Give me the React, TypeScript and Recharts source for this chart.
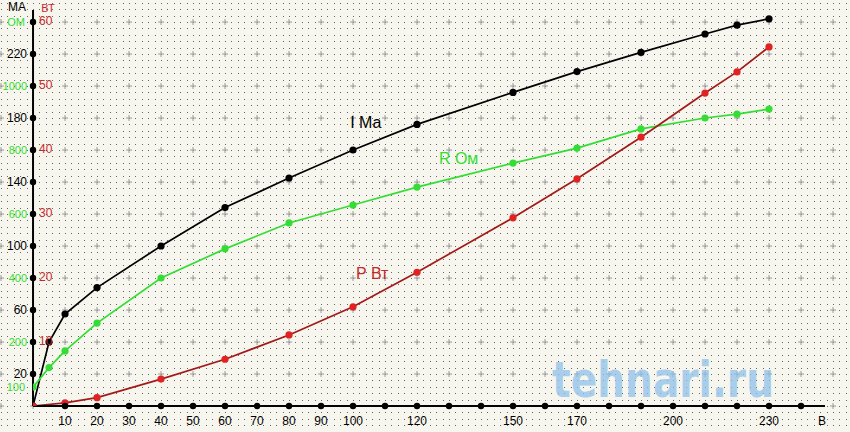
import { LineChart, Line, XAxis, YAxis, ReferenceDot } from 'recharts';

// measurements: voltage across the lamp and what was read at each step
const volts = [0, 5, 10, 20, 40, 60, 80, 100, 120, 150, 170, 190, 210, 220, 230];
const currentMa = [0, 40, 57.5, 74, 100, 124, 142.5, 160, 176, 196, 209, 221, 232.5, 238, 242];
const resistOhm = [59, 120, 172, 259, 400, 491, 572, 628, 684, 759, 806, 866, 900, 912, 928];
const powerW = [0, null, 0.5, 1.3, 4.2, 7.3, 11.1, 15.5, 20.9, 29.4, 35.5, 42, 48.9, 52.2, 56.1];

const voltTicks = [10, 20, 30, 40, 50, 60, 70, 80, 90, 100, 110, 120, 130, 140, 150, 160, 170, 180, 190, 200, 210, 220, 230, 240];
const voltLabels = [10, 20, 30, 40, 50, 60, 70, 80, 90, 100, 120, 150, 170, 200, 230];
const maTicks = [20, 40, 60, 80, 100, 120, 140, 160, 180, 200, 220, 240];
const maLabels = [20, 60, 100, 140, 180, 220];
const wattTicks = [10, 20, 30, 40, 50, 60];
const ohmTicks = [200, 400, 600, 800, 1000];

const chartData = volts.map((v, i) => ({
  v,
  i: currentMa[i],
  r: resistOhm[i],
  p: powerW[i],
}));

const RED = '#c42a2a';
const RED_LINE = '#a11a1a';
const GREEN = '#33dd33';
const FONT = '"Liberation Sans", Arial, sans-serif';
// axes take (almost) no room, they sit on the plot edge
const THIN = 0.01;

const VoltTick = ({ x, y, payload }: any) => (
  <g>
    <circle cx={x} cy={y} r={3.2} fill="#000" />
    {voltLabels.includes(payload.value) && (
      <text x={x} y={y + 19} textAnchor="middle" fontSize={12} fill="#000">
        {payload.value}
      </text>
    )}
  </g>
);

const MaTick = ({ x, y, payload }: any) => (
  <g>
    <circle cx={x} cy={y} r={3.2} fill="#000" />
    {maLabels.includes(payload.value) && (
      <text x={x - 6} y={y + 4} textAnchor="end" fontSize={12} fill="#000">
        {payload.value}
      </text>
    )}
  </g>
);

const WattTick = ({ x, y, payload }: any) => (
  <text x={x + 6} y={y + 3} textAnchor="start" fontSize={12} fill={RED}>
    {payload.value}
  </text>
);

const OhmTick = ({ x, y, payload }: any) => (
  <text x={x - 6} y={y + 4} textAnchor="end" fontSize={11} fill={GREEN}>
    {payload.value}
  </text>
);

// background: small dots every 1/5 division and a "+" at each division
const dotOffsets = [0, 6, 13, 19, 26];

function Paper() {
  return (
    <svg width={850} height={432} style={{ position: 'absolute', left: 0, top: 0 }}>
      <defs>
        <pattern id="dots" width={32} height={32} patternUnits="userSpaceOnUse" x={1} y={22}>
          {dotOffsets.map((dx) =>
            dotOffsets.map((dy) => (
              <rect key={`${dx}-${dy}`} x={dx} y={dy} width={1} height={1} fill="#666" />
            ))
          )}
        </pattern>
        <pattern id="plus" width={32} height={32} patternUnits="userSpaceOnUse" x={17} y={6}>
          <rect x={13} y={15.5} width={6} height={1} fill="#9a9a9a" />
          <rect x={15.5} y={13} width={1} height={6} fill="#9a9a9a" />
        </pattern>
      </defs>
      <rect width={850} height={432} fill="#f7f6ee" />
      <rect width={850} height={432} fill="url(#dots)" />
      <rect width={850} height={432} fill="url(#plus)" />
      <text
        x={552}
        y={397}
        fontSize={50}
        fontWeight="bold"
        fontFamily='"DejaVu Sans", sans-serif'
        fill="#8fc1ea"
        fillOpacity={0.75}
        textLength={222}
        lengthAdjust="spacingAndGlyphs"
      >
        tehnari.ru
      </text>
    </svg>
  );
}

export default function App() {
  return (
    <div style={{ position: 'absolute', left: 0, top: 0, width: 850, height: 432, fontFamily: FONT }}>
      <Paper />
      <div style={{ position: 'absolute', left: 0, top: 0 }}>
        <LineChart width={850} height={432} data={chartData} margin={{ top: 10, right: 25, bottom: 26, left: 33 }}>
          <XAxis
            dataKey="v"
            type="number"
            domain={[0, 247.5]}
            allowDataOverflow
            ticks={voltTicks}
            interval={0}
            height={THIN}
            tickSize={0}
            tickMargin={0}
            tick={<VoltTick />}
            axisLine={{ stroke: '#000', strokeWidth: 2 }}
            label={(props: any) => (
              <text x={props.viewBox.x + props.viewBox.width - 3} y={425} textAnchor="middle" fontSize={12} fill="#000">
                В
              </text>
            )}
          />
          <YAxis
            yAxisId="ma"
            type="number"
            domain={[0, 247.5]}
            allowDataOverflow
            ticks={maTicks}
            interval={0}
            width={THIN}
            tickSize={0}
            tickMargin={0}
            tick={<MaTick />}
            axisLine={{ stroke: '#000', strokeWidth: 2 }}
            label={(props: any) => (
              <text x={props.viewBox.x - 16} y={11} textAnchor="middle" fontSize={12} fill="#000">
                МА
              </text>
            )}
          />
          <YAxis
            yAxisId="w"
            type="number"
            domain={[0, 61.875]}
            allowDataOverflow
            ticks={wattTicks}
            interval={0}
            width={THIN}
            tickSize={0}
            tickMargin={0}
            tick={<WattTick />}
            axisLine={false}
            label={(props: any) => (
              <text x={props.viewBox.x + 15} y={12} textAnchor="middle" fontSize={11} fill={RED}>
                ВТ
              </text>
            )}
          />
          <YAxis
            yAxisId="ohm"
            type="number"
            domain={[0, 1237.5]}
            allowDataOverflow
            ticks={ohmTicks}
            interval={0}
            width={THIN}
            tickSize={0}
            tickMargin={0}
            tick={<OhmTick />}
            axisLine={false}
            label={(props: any) => (
              <text x={props.viewBox.x - 17} y={26} textAnchor="middle" fontSize={11} fill={GREEN}>
                ОМ
              </text>
            )}
          />
          <Line
            yAxisId="ma"
            type="linear"
            dataKey="i"
            stroke="#000"
            strokeWidth={1.7}
            dot={{ r: 3.6, fill: '#000', strokeWidth: 0 }}
            isAnimationActive={false}
          />
          <Line
            yAxisId="ohm"
            type="linear"
            dataKey="r"
            stroke={GREEN}
            strokeWidth={1.7}
            dot={{ r: 3.6, fill: GREEN, strokeWidth: 0 }}
            isAnimationActive={false}
          />
          <Line
            yAxisId="w"
            type="linear"
            dataKey="p"
            stroke={RED_LINE}
            strokeWidth={1.7}
            connectNulls
            dot={{ r: 3.6, fill: '#e02222', strokeWidth: 0 }}
            isAnimationActive={false}
          />
          <ReferenceDot
            yAxisId="ohm"
            x={0}
            y={resistOhm[0]}
            r={1}
            fillOpacity={0}
            strokeOpacity={0}
            label={{ value: '100', position: 'left', offset: 7, fill: GREEN, fontSize: 11 }}
          />
          <ReferenceDot
            yAxisId="ma"
            x={104}
            y={177.5}
            r={1}
            fillOpacity={0}
            strokeOpacity={0}
            label={{ value: 'I Ма', position: 'center', fill: '#000', fontSize: 16 }}
          />
          <ReferenceDot
            yAxisId="ohm"
            x={133}
            y={775}
            r={1}
            fillOpacity={0}
            strokeOpacity={0}
            label={{ value: 'R Ом', position: 'center', fill: GREEN, fontSize: 16 }}
          />
          <ReferenceDot
            yAxisId="w"
            x={106}
            y={20.8}
            r={1}
            fillOpacity={0}
            strokeOpacity={0}
            label={{ value: 'P Вт', position: 'center', fill: RED, fontSize: 16 }}
          />
        </LineChart>
      </div>
    </div>
  );
}
